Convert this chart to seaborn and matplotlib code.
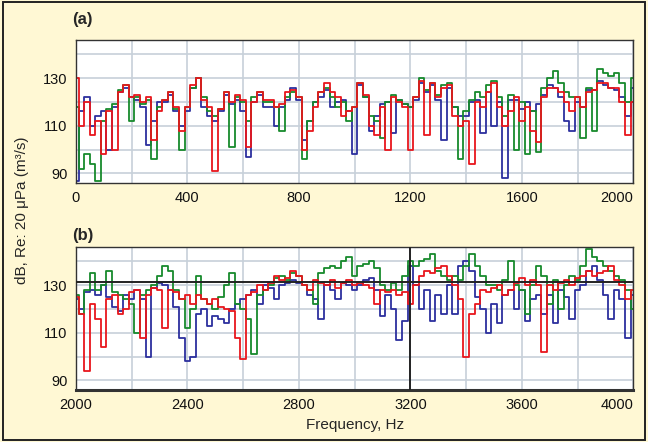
import numpy as np
import pandas as pd
import matplotlib
matplotlib.use("Agg")
import matplotlib.pyplot as plt
import seaborn as sns
from matplotlib.patches import Rectangle

# ---------------- data (dB values every 20 Hz) ----------------
freq_a = list(range(0, 2001, 20))
freq_b = list(range(2000, 4001, 20))

red_a = [130,110,120,106,112,98,116,100,124,127,
         122,123,120,122,104,116,121,124,118,108,
         118,127,130,121,118,91,117,124,120,123,
         121,101,120,124,121,121,118,119,124,125,
         122,100,108,118,124,128,124,122,114,116,
         118,128,123,110,106,118,100,122,120,118,
         100,122,129,106,128,122,126,127,114,110,
         112,94,120,118,124,128,118,110,116,122,
         112,118,108,103,122,126,126,124,120,116,
         122,118,124,125,128,128,126,126,120,106,
         120]
blue_a = [87,116,122,110,114,116,100,118,124,126,
          122,121,118,102,112,120,120,123,116,110,
          116,126,130,118,114,112,116,123,119,121,
          116,97,120,123,118,118,110,118,121,126,
          121,104,112,120,122,125,118,120,121,116,
          98,127,122,108,114,119,120,107,121,119,
          118,121,128,124,127,121,104,126,118,114,
          114,120,121,107,124,110,120,88,121,121,
          117,120,116,119,123,127,126,122,112,108,
          120,118,125,125,129,127,126,125,122,114,
          126]
green_a = [118,92,98,94,87,112,117,119,125,127,
           112,122,119,121,96,118,121,124,117,100,
           118,126,130,122,116,114,117,124,101,122,
           120,112,122,124,120,120,118,108,122,124,
           122,96,112,120,124,126,122,118,120,112,
           118,128,122,114,112,105,120,123,121,119,
           118,122,130,125,128,123,127,128,118,96,
           116,121,124,122,127,129,122,114,123,100,
           120,98,116,99,126,130,133,128,124,122,
           122,105,126,108,134,132,131,132,128,120,
           130]

green_b = [126,118,128,135,128,130,136,127,126,124,
           122,110,126,128,130,134,138,136,128,124,
           112,120,134,124,122,120,125,130,135,122,
           120,116,101,126,128,130,133,134,132,135,
           134,130,128,122,135,137,138,137,140,142,
           134,138,139,140,137,130,128,131,128,134,
           140,138,140,141,143,136,134,132,134,132,
           138,143,138,134,130,130,128,132,140,130,
           128,118,130,138,134,122,132,120,130,134,
           132,138,145,142,140,138,136,134,132,128,
           120]
blue_b = [124,120,127,128,126,130,125,121,119,126,
          124,128,124,100,129,131,130,128,121,108,
          98,100,118,120,113,117,116,114,120,122,
          124,126,128,122,130,129,124,130,131,132,
          131,130,126,124,116,130,128,124,131,130,
          128,130,132,133,128,117,126,120,107,115,
          138,130,120,128,115,126,118,130,118,138,
          140,136,125,120,110,122,114,126,128,120,
          128,115,124,126,118,126,114,128,125,116,
          128,130,136,138,132,126,116,128,124,108,
          126]
red_b = [125,118,94,122,116,104,124,126,118,120,
         127,128,108,126,129,128,112,128,127,124,
         126,122,126,124,122,124,121,120,119,108,
         99,126,127,130,128,131,134,132,133,136,
         134,130,128,132,131,130,132,129,131,132,
         130,131,130,129,122,128,127,128,126,127,
         122,130,134,136,135,137,138,134,130,124,
         100,118,122,128,127,129,130,126,128,131,
         133,130,132,130,102,130,128,131,132,130,
         133,134,136,134,135,136,138,132,130,124,
         128]

series_names = ["blue", "green", "red"]
series_colors = ["#2c2f9e", "#178a2c", "#e8161c"]
ytick_vals = [90, 100, 110, 120, 130, 140]
ytick_labels = ["90", "", "110", "", "130", ""]
ref_level_b = 131.5
ref_freq_b = 3200

# ---------------- figure ----------------
sns.set_theme(style="white")
plt.rcParams["font.family"] = ["Liberation Sans", "DejaVu Sans"]

bg = "#fff8d4"
fig = plt.figure(figsize=(6.48, 4.42), dpi=100, facecolor=bg)
fig.patches.append(Rectangle((0.004, 0.004), 0.992, 0.992, transform=fig.transFigure,
                             fill=False, edgecolor="#222222", linewidth=1.4))

L, W = 0.117, 0.8605
ax_a = fig.add_axes([L, 0.586, W, 0.3235])
ax_b = fig.add_axes([L, 0.1176, W, 0.3236])

def make_df(freq, blue, green, red):
    frames = []
    for name, vals in zip(series_names, [blue, green, red]):
        frames.append(pd.DataFrame({"freq": freq, "level": vals, "series": name}))
    return pd.concat(frames, ignore_index=True)

df_a = make_df(freq_a, blue_a, green_a, red_a)
df_b = make_df(freq_b, blue_b, green_b, red_b)

palette = dict(zip(series_names, series_colors))

for ax, df, x0, x1 in [(ax_a, df_a, 0, 2000), (ax_b, df_b, 2000, 4000)]:
    ax.set_facecolor("white")
    sns.lineplot(data=df, x="freq", y="level", hue="series", hue_order=series_names,
                 palette=palette, estimator=None, legend=False, ax=ax,
                 linewidth=1.3, drawstyle="steps-mid")
    ax.set_xlim(x0, x1)
    ax.set_ylim(86, 146)
    xt = list(range(x0, x1 + 1, 200))
    ax.set_xticks(xt)
    ax.set_xticklabels([str(v) if (v - x0) % 400 == 0 else "" for v in xt])
    ax.set_yticks(ytick_vals)
    ax.set_yticklabels(ytick_labels)
    ax.grid(True, color="#c7d0d9", linewidth=1.2)
    ax.set_axisbelow(True)
    ax.tick_params(axis="both", direction="out", length=4, width=0.9, color="#444444",
                   labelsize=10.5, labelcolor="#111111", pad=2)
    ax.set_xlabel("")
    ax.set_ylabel("")
    for s in ax.spines.values():
        s.set_color("#333333")
        s.set_linewidth(1.0)
    labs = ax.get_xticklabels()
    labs[-1].set_horizontalalignment("right")

ax_b.spines["bottom"].set_linewidth(2.2)
ax_b.axhline(ref_level_b, color="#222222", linewidth=1.4, zorder=5)
ax_b.axvline(ref_freq_b, color="#222222", linewidth=1.4, zorder=5)

fig.text(0.111, 0.955, "(a)", fontsize=12, fontweight="bold", ha="left", va="center")
fig.text(0.111, 0.468, "(b)", fontsize=12, fontweight="bold", ha="left", va="center")
fig.text(0.034, 0.525, "dB, Re: 20 μPa (m³/s)", rotation=90, fontsize=11,
         ha="center", va="center")
fig.text(0.548, 0.038, "Frequency, Hz", fontsize=11, ha="center", va="center")

fig.savefig("out.png", dpi=100, facecolor=bg)
